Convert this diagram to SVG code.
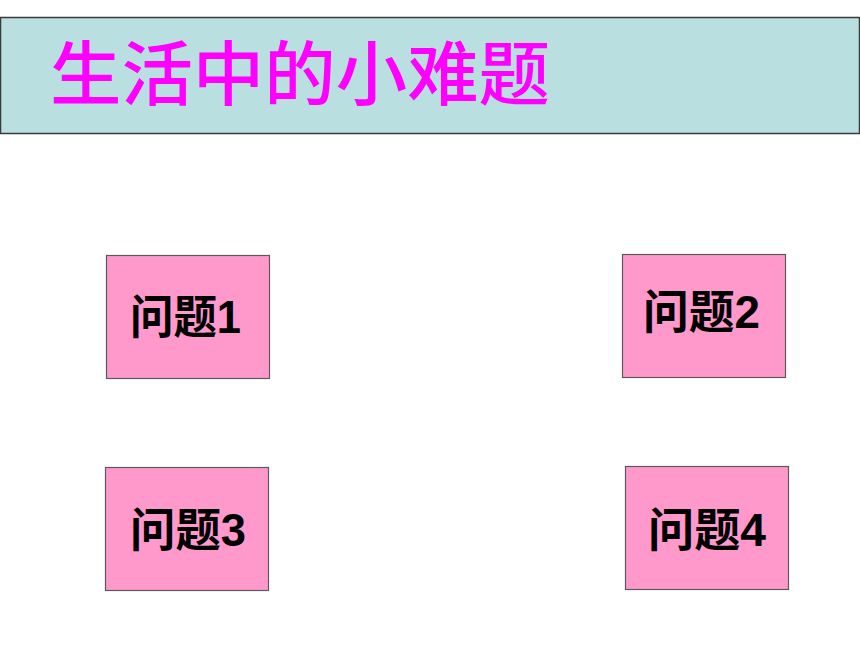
<svg xmlns="http://www.w3.org/2000/svg" width="860" height="645" viewBox="0 0 860 645">
<style>
.box{fill:#FF99CC;stroke:#5a5a5a;stroke-width:1.2}
.lbl{font-family:"Liberation Sans","Noto Sans CJK SC",sans-serif;font-weight:bold;font-size:46px;fill:#000}
.title{font-family:"Noto Sans CJK SC",sans-serif;font-weight:500;font-size:70px;fill:#FF00FF}
</style>
<rect width="860" height="645" fill="#fff"/>
<g id="header">
<rect x="0.5" y="17.5" width="859" height="116" fill="#B9DFE1" stroke="#3a3a3a" stroke-width="1.5"/>
<text class="title" x="50" y="100" textLength="500" lengthAdjust="spacingAndGlyphs">生活中的小难题</text>
</g>
<g id="node1">
<rect class="box" x="106.5" y="255.5" width="163" height="123"/>
<text class="lbl" x="130" y="333" textLength="111" lengthAdjust="spacingAndGlyphs">问题1</text>
</g>
<g id="node2">
<rect class="box" x="622.5" y="254.5" width="163" height="123"/>
<text class="lbl" x="643" y="328" textLength="117" lengthAdjust="spacingAndGlyphs">问题2</text>
</g>
<g id="node3">
<rect class="box" x="105.5" y="467.5" width="163" height="123"/>
<text class="lbl" x="130" y="546" textLength="116" lengthAdjust="spacingAndGlyphs">问题3</text>
</g>
<g id="node4">
<rect class="box" x="625.5" y="466.5" width="163" height="123"/>
<text class="lbl" x="648" y="546" textLength="118" lengthAdjust="spacingAndGlyphs">问题4</text>
</g>
<g id="connectors"></g>
</svg>
